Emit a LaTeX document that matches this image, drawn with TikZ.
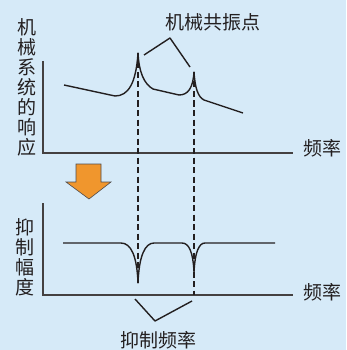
\documentclass[tikz,border=0pt]{standalone}
\usepackage{fontspec}
\setmainfont{Noto Sans CJK SC}
\usetikzlibrary{calc,positioning}
\definecolor{bgblue}{RGB}{214,234,248}
\definecolor{inkgray}{RGB}{35,31,32}
\definecolor{arrorange}{RGB}{240,150,45}
\begin{document}
\begin{tikzpicture}[x=1pt,y=-1pt,
  lbl/.style={inner sep=0pt,text=inkgray,font=\fontsize{19}{20}\selectfont,align=center},
  axis/.style={draw=inkgray!85,line width=1.4pt},
  curve/.style={draw=inkgray,line width=1.4pt,line join=round},
  guide/.style={draw=inkgray,line width=1.3pt,dashed,dash pattern=on 6pt off 3.5pt}]
\useasboundingbox[fill=bgblue] (0,0) rectangle (346,350);
% top plot
\coordinate (O1) at (43,153);
\coordinate (Y1) at (43,61);
\coordinate (X1) at (293,153);
\draw[axis] (Y1) -- (O1) -- (X1);
\node[lbl] at (27,87) (resp) {机\\械\\系\\统\\的\\响\\应};
\node[lbl] at (322,148) (freq1) {频率};
\coordinate (p1) at (138,53);
\coordinate (p2) at (194,72);
\draw[curve] (64,85) -- (115,96) .. controls (128,96) and (136,84) .. (p1)
  .. controls (139,72) and (144,84) .. (153,89) -- (179,95)
  .. controls (188,95) and (193,88) .. (p2)
  .. controls (195,88) and (198,97) .. (204,100) -- (243,113);
\node[lbl] at (213,22) (reso) {机械共振点};
\coordinate (b1) at (144,55);
\coordinate (b2) at (170,38);
\coordinate (b3) at (190,67);
\draw[curve] (b1) -- (b2) -- (b3);
% arrow
\draw[fill=arrorange,draw=inkgray!80,line width=0.6pt,line join=miter]
  (76,164) -- (101,164) -- (101,182) -- (111,182) -- (89,199) -- (66,182) -- (76,182) -- cycle;
% lower plot
\coordinate (O2) at (43,295);
\coordinate (Y2) at (43,203);
\coordinate (X2) at (293,295);
\draw[axis] (Y2) -- (O2) -- (X2);
\node[lbl] at (25,257) (supp) {抑\\制\\幅\\度};
\node[lbl] at (322,292) (freq2) {频率};
\coordinate (n1) at (138,283);
\coordinate (n2) at (194,272);
\draw[curve] (63,243) -- (121,243) .. controls (131,243) and (137,256) .. (n1)
  .. controls (139,256) and (145,243) .. (154,243) -- (182,243)
  .. controls (189,243) and (193,252) .. (n2)
  .. controls (195,252) and (199,243) .. (205,243) -- (275,243);
\draw[guide] (p1) -- (n1);
\draw[guide] (p2) -- (p2 |- O2);
\coordinate (c1) at (135,299);
\coordinate (c2) at (155,321);
\coordinate (c3) at (192,301);
\draw[curve] (c1) -- (c2) -- (c3);
\node[lbl] at (158,340) (suppf) {抑制频率};
\end{tikzpicture}
\end{document}
